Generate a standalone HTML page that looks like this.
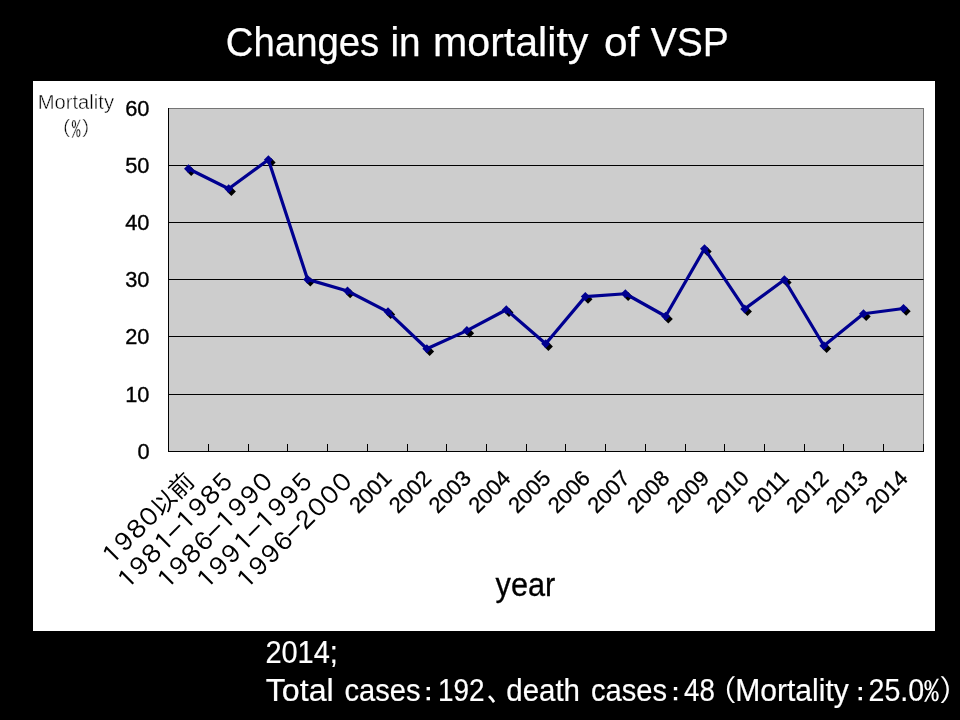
<!DOCTYPE html>
<html lang="ja">
<head>
<meta charset="utf-8">
<title>Changes in mortality of VSP</title>
<style>
html,body{margin:0;padding:0;background:#000;}
body{width:960px;height:720px;overflow:hidden;position:relative;}
svg{display:block;position:absolute;left:0;top:0;}
.lat{font-family:"Liberation Sans",sans-serif;}
.fw{font-family:"IPAGothic","Noto Sans CJK JP",sans-serif;}
</style>
</head>
<body>
<svg width="960" height="720" viewBox="0 0 960 720">
<rect x="0" y="0" width="960" height="720" fill="#000"/>

<g class="lat" fill="#fff" stroke="#fff" stroke-width="0.25" font-size="41.5">
<text y="56">
<tspan x="225.8" textLength="153.5" lengthAdjust="spacingAndGlyphs">Changes</tspan>
<tspan x="390.5" textLength="30.2" lengthAdjust="spacingAndGlyphs">in</tspan>
<tspan x="433.0" textLength="155.4" lengthAdjust="spacingAndGlyphs">mortality</tspan>
<tspan x="604.0" textLength="35.3" lengthAdjust="spacingAndGlyphs">of</tspan>
<tspan x="650.8" textLength="78.1" lengthAdjust="spacingAndGlyphs">VSP</tspan>
</text>
</g>
<rect x="33" y="81" width="902" height="550" fill="#fff"/>
<rect x="168.5" y="108.5" width="755.0" height="343.0" fill="#cdcdcd" stroke="#757575" stroke-width="1"/>
<line x1="168.5" x2="923.5" y1="165.5" y2="165.5" stroke="#000" stroke-width="1"/>
<line x1="168.5" x2="923.5" y1="222.5" y2="222.5" stroke="#000" stroke-width="1"/>
<line x1="168.5" x2="923.5" y1="279.5" y2="279.5" stroke="#000" stroke-width="1"/>
<line x1="168.5" x2="923.5" y1="336.5" y2="336.5" stroke="#000" stroke-width="1"/>
<line x1="168.5" x2="923.5" y1="394.5" y2="394.5" stroke="#000" stroke-width="1"/>
<line x1="168.5" x2="168.5" y1="108.0" y2="452.0" stroke="#000" stroke-width="1"/>
<line x1="168.0" x2="924.0" y1="451.5" y2="451.5" stroke="#000" stroke-width="1"/>
<line x1="208.5" x2="208.5" y1="444.0" y2="451.5" stroke="#000" stroke-width="1"/>
<line x1="248.5" x2="248.5" y1="444.0" y2="451.5" stroke="#000" stroke-width="1"/>
<line x1="287.5" x2="287.5" y1="444.0" y2="451.5" stroke="#000" stroke-width="1"/>
<line x1="327.5" x2="327.5" y1="444.0" y2="451.5" stroke="#000" stroke-width="1"/>
<line x1="367.5" x2="367.5" y1="444.0" y2="451.5" stroke="#000" stroke-width="1"/>
<line x1="407.5" x2="407.5" y1="444.0" y2="451.5" stroke="#000" stroke-width="1"/>
<line x1="446.5" x2="446.5" y1="444.0" y2="451.5" stroke="#000" stroke-width="1"/>
<line x1="486.5" x2="486.5" y1="444.0" y2="451.5" stroke="#000" stroke-width="1"/>
<line x1="526.5" x2="526.5" y1="444.0" y2="451.5" stroke="#000" stroke-width="1"/>
<line x1="565.5" x2="565.5" y1="444.0" y2="451.5" stroke="#000" stroke-width="1"/>
<line x1="605.5" x2="605.5" y1="444.0" y2="451.5" stroke="#000" stroke-width="1"/>
<line x1="645.5" x2="645.5" y1="444.0" y2="451.5" stroke="#000" stroke-width="1"/>
<line x1="685.5" x2="685.5" y1="444.0" y2="451.5" stroke="#000" stroke-width="1"/>
<line x1="724.5" x2="724.5" y1="444.0" y2="451.5" stroke="#000" stroke-width="1"/>
<line x1="764.5" x2="764.5" y1="444.0" y2="451.5" stroke="#000" stroke-width="1"/>
<line x1="804.5" x2="804.5" y1="444.0" y2="451.5" stroke="#000" stroke-width="1"/>
<line x1="843.5" x2="843.5" y1="444.0" y2="451.5" stroke="#000" stroke-width="1"/>
<line x1="883.5" x2="883.5" y1="444.0" y2="451.5" stroke="#000" stroke-width="1"/>
<line x1="923.5" x2="923.5" y1="444.0" y2="451.5" stroke="#000" stroke-width="1"/>
<g class="lat" fill="#000" stroke="#000" stroke-width="0.35" font-size="21.8" text-anchor="end">
<text x="149.5" y="116.2">60</text>
<text x="149.5" y="173.2">50</text>
<text x="149.5" y="230.2">40</text>
<text x="149.5" y="287.2">30</text>
<text x="149.5" y="344.2">20</text>
<text x="149.5" y="402.2">10</text>
<text x="149.5" y="459.2">0</text>
</g>
<text class="lat" fill="#000" stroke="#fff" stroke-width="0.42" font-size="20" x="37.7" y="109.2" textLength="76.3" lengthAdjust="spacingAndGlyphs">Mortality</text>
<text class="fw" fill="#000" stroke="#fff" stroke-width="0.3" font-size="19.5" x="61.4" y="135.6">(%)</text>
<g fill="#000">
<path d="M191.20 166.95L195.70 171.45L191.20 175.95L186.70 171.45Z"/>
<path d="M231.40 186.90L235.90 191.40L231.40 195.90L226.90 191.40Z"/>
<path d="M271.10 157.95L275.60 162.45L271.10 166.95L266.60 162.45Z"/>
<path d="M310.30 277.60L314.80 282.10L310.30 286.60L305.80 282.10Z"/>
<path d="M350.20 289.20L354.70 293.70L350.20 298.20L345.70 293.70Z"/>
<path d="M390.70 310.00L395.20 314.50L390.70 319.00L386.20 314.50Z"/>
<path d="M429.60 346.95L434.10 351.45L429.60 355.95L425.10 351.45Z"/>
<path d="M469.60 328.80L474.10 333.30L469.60 337.80L465.10 333.30Z"/>
<path d="M509.00 307.95L513.50 312.45L509.00 316.95L504.50 312.45Z"/>
<path d="M548.40 341.95L552.90 346.45L548.40 350.95L543.90 346.45Z"/>
<path d="M588.00 294.80L592.50 299.30L588.00 303.80L583.50 299.30Z"/>
<path d="M628.10 291.95L632.60 296.45L628.10 300.95L623.60 296.45Z"/>
<path d="M668.30 314.45L672.80 318.95L668.30 323.45L663.80 318.95Z"/>
<path d="M707.20 246.95L711.70 251.45L707.20 255.95L702.70 251.45Z"/>
<path d="M747.45 307.10L751.95 311.60L747.45 316.10L742.95 311.60Z"/>
<path d="M787.10 277.95L791.60 282.45L787.10 286.95L782.60 282.45Z"/>
<path d="M826.60 344.00L831.10 348.50L826.60 353.00L822.10 348.50Z"/>
<path d="M866.20 311.95L870.70 316.45L866.20 320.95L861.70 316.45Z"/>
<path d="M906.20 306.70L910.70 311.20L906.20 315.70L901.70 311.20Z"/>
</g>
<g fill="#000090">
<path d="M188.50 164.25L193.00 168.75L188.50 173.25L184.00 168.75Z"/>
<path d="M228.70 184.20L233.20 188.70L228.70 193.20L224.20 188.70Z"/>
<path d="M268.40 155.25L272.90 159.75L268.40 164.25L263.90 159.75Z"/>
<path d="M307.60 274.90L312.10 279.40L307.60 283.90L303.10 279.40Z"/>
<path d="M347.50 286.50L352.00 291.00L347.50 295.50L343.00 291.00Z"/>
<path d="M388.00 307.30L392.50 311.80L388.00 316.30L383.50 311.80Z"/>
<path d="M426.90 344.25L431.40 348.75L426.90 353.25L422.40 348.75Z"/>
<path d="M466.90 326.10L471.40 330.60L466.90 335.10L462.40 330.60Z"/>
<path d="M506.30 305.25L510.80 309.75L506.30 314.25L501.80 309.75Z"/>
<path d="M545.70 339.25L550.20 343.75L545.70 348.25L541.20 343.75Z"/>
<path d="M585.30 292.10L589.80 296.60L585.30 301.10L580.80 296.60Z"/>
<path d="M625.40 289.25L629.90 293.75L625.40 298.25L620.90 293.75Z"/>
<path d="M665.60 311.75L670.10 316.25L665.60 320.75L661.10 316.25Z"/>
<path d="M704.50 244.25L709.00 248.75L704.50 253.25L700.00 248.75Z"/>
<path d="M744.75 304.40L749.25 308.90L744.75 313.40L740.25 308.90Z"/>
<path d="M784.40 275.25L788.90 279.75L784.40 284.25L779.90 279.75Z"/>
<path d="M823.90 341.30L828.40 345.80L823.90 350.30L819.40 345.80Z"/>
<path d="M863.50 309.25L868.00 313.75L863.50 318.25L859.00 313.75Z"/>
<path d="M903.50 304.00L908.00 308.50L903.50 313.00L899.00 308.50Z"/>
</g>
<polyline points="188.5,168.75 228.7,188.7 268.4,159.75 307.6,279.4 347.5,291.0 388.0,311.8 426.9,348.75 466.9,330.6 506.3,309.75 545.7,343.75 585.3,296.6 625.4,293.75 665.6,316.25 704.5,248.75 744.75,308.9 784.4,279.75 823.9,345.8 863.5,313.75 903.5,308.5" fill="none" stroke="#000090" stroke-width="3.2" stroke-linejoin="round"/>
<g class="fw" fill="#000" font-size="25">
<text transform="translate(195.9 483.1) rotate(-45)"><tspan x="-121.80" letter-spacing="-7.600">１９８０</tspan><tspan x="-48.80" letter-spacing="-0.80">以前</tspan></text>
<text transform="translate(235.6 483.1) rotate(-45)"><tspan x="-156.50" letter-spacing="-7.600">１９８１</tspan><tspan x="-86.97" letter-spacing="0" textLength="21.25" lengthAdjust="spacingAndGlyphs">－</tspan><tspan x="-73.40" letter-spacing="-7.600">１９８５</tspan></text>
<text transform="translate(275.3 483.1) rotate(-45)"><tspan x="-156.50" letter-spacing="-7.600">１９８６</tspan><tspan x="-86.97" letter-spacing="0" textLength="21.25" lengthAdjust="spacingAndGlyphs">－</tspan><tspan x="-73.40" letter-spacing="-7.600">１９９０</tspan></text>
<text transform="translate(315.0 483.1) rotate(-45)"><tspan x="-156.50" letter-spacing="-7.600">１９９１</tspan><tspan x="-86.97" letter-spacing="0" textLength="21.25" lengthAdjust="spacingAndGlyphs">－</tspan><tspan x="-73.40" letter-spacing="-7.600">１９９５</tspan></text>
<text transform="translate(354.8 483.1) rotate(-45)"><tspan x="-156.50" letter-spacing="-7.600">１９９６</tspan><tspan x="-86.97" letter-spacing="0" textLength="21.25" lengthAdjust="spacingAndGlyphs">－</tspan><tspan x="-73.40" letter-spacing="-7.600">２０００</tspan></text>
</g>
<g class="lat" fill="#000" stroke="#000" stroke-width="0.3" font-size="22" text-anchor="end">
<text transform="translate(392.9 479.7) rotate(-45)">2001</text>
<text transform="translate(432.6 479.7) rotate(-45)">2002</text>
<text transform="translate(472.3 479.7) rotate(-45)">2003</text>
<text transform="translate(512.0 479.7) rotate(-45)">2004</text>
<text transform="translate(551.8 479.7) rotate(-45)">2005</text>
<text transform="translate(591.5 479.7) rotate(-45)">2006</text>
<text transform="translate(631.2 479.7) rotate(-45)">2007</text>
<text transform="translate(670.9 479.7) rotate(-45)">2008</text>
<text transform="translate(710.6 479.7) rotate(-45)">2009</text>
<text transform="translate(750.4 479.7) rotate(-45)">2010</text>
<text transform="translate(790.1 479.7) rotate(-45)">2011</text>
<text transform="translate(829.8 479.7) rotate(-45)">2012</text>
<text transform="translate(869.5 479.7) rotate(-45)">2013</text>
<text transform="translate(909.2 479.7) rotate(-45)">2014</text>
</g>
<text class="lat" x="495.6" y="595.8" font-size="32.4" fill="#000" stroke="#000" stroke-width="0.3" textLength="59.7" lengthAdjust="spacingAndGlyphs">year</text>
<g class="lat" fill="#fff" stroke="#fff" stroke-width="0.2" font-size="31">
<text x="265.4" y="663.2" textLength="72.5" lengthAdjust="spacingAndGlyphs">2014;</text>
<text><tspan x="265.8" y="701" textLength="67.9" lengthAdjust="spacingAndGlyphs">Total</tspan>
<tspan x="344.4" y="701" textLength="76.1" lengthAdjust="spacingAndGlyphs">cases</tspan>
<tspan class="fw" stroke="none" x="414.6" y="701.5" font-size="28">：</tspan>
<tspan x="437.9" y="701" textLength="46.6" lengthAdjust="spacingAndGlyphs">192</tspan>
<tspan class="fw" stroke="none" x="486.8" y="701" font-size="30">、</tspan>
<tspan x="506.3" y="701" textLength="73.7" lengthAdjust="spacingAndGlyphs">death</tspan>
<tspan x="591.0" y="701" textLength="76.0" lengthAdjust="spacingAndGlyphs">cases</tspan>
<tspan class="fw" stroke="none" x="661.7" y="701.5" font-size="28">：</tspan>
<tspan x="684.1" y="701" textLength="30.8" lengthAdjust="spacingAndGlyphs">48</tspan>
<tspan class="fw" stroke="none" x="707.2" y="701" font-size="30">（</tspan>
<tspan x="735.3" y="701" textLength="113.5" lengthAdjust="spacingAndGlyphs">Mortality</tspan>
<tspan class="fw" stroke="none" x="846.4" y="701.5" font-size="28">：</tspan>
<tspan x="868.6" y="701" textLength="55.6" lengthAdjust="spacingAndGlyphs">25.0</tspan>
<tspan class="fw" stroke="none" x="923.4" y="700" font-size="25" textLength="16.0" lengthAdjust="spacingAndGlyphs">%</tspan>
<tspan class="fw" stroke="none" x="938.4" y="701" font-size="30">）</tspan></text>
</g>
</svg>
</body>
</html>
